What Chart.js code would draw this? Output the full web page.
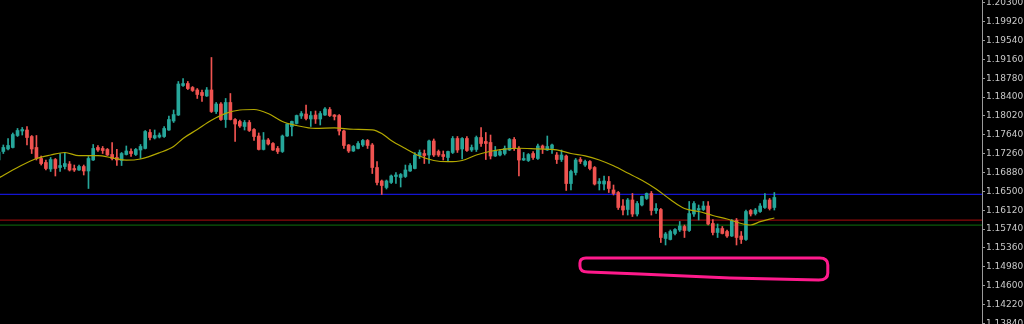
<!DOCTYPE html>
<html>
<head>
<meta charset="utf-8">
<script src="https://cdn.jsdelivr.net/npm/chart.js@4.4.0/dist/chart.umd.min.js"></script>
<style>
  html, body { margin: 0; padding: 0; background: #000; }
  canvas { display: block; }
</style>
</head>
<body>
<canvas id="priceChart" width="1024" height="324"></canvas>
<script>
// candle prices, oldest first
const opens = [
  1.17131, 1.17303, 1.17354, 1.17384, 1.17625, 1.17716, 1.17736, 1.17605, 1.17384, 1.17162,
  1.17081, 1.16950, 1.17141, 1.16980, 1.17000, 1.17050, 1.16960, 1.16930, 1.17000, 1.16910,
  1.17131, 1.17384, 1.17364, 1.17344, 1.17242, 1.17182, 1.17121, 1.17242, 1.17303, 1.17242,
  1.17333, 1.17364, 1.17686, 1.17575, 1.17595, 1.17605, 1.17736, 1.17918, 1.18038, 1.18633,
  1.18673, 1.18593, 1.18543, 1.18493, 1.18422, 1.18543, 1.18109, 1.18260, 1.17947, 1.18291,
  1.17947, 1.17908, 1.17807, 1.17888, 1.17746, 1.17615, 1.17344, 1.17535, 1.17464, 1.17364,
  1.17303, 1.17615, 1.17807, 1.17868, 1.18018, 1.18058, 1.17958, 1.18038, 1.17958, 1.18038,
  1.18149, 1.18038, 1.18028, 1.17716, 1.17434, 1.17313, 1.17364, 1.17434, 1.17525, 1.17434,
  1.16980, 1.16708, 1.16577, 1.16678, 1.16799, 1.16779, 1.16799, 1.16910, 1.16960, 1.17222,
  1.17262, 1.17232, 1.17515, 1.17303, 1.17242, 1.17182, 1.17283, 1.17565, 1.17354, 1.17565,
  1.17333, 1.17344, 1.17585, 1.17505, 1.17485, 1.17212, 1.17232, 1.17262, 1.17333, 1.17545,
  1.17364, 1.17131, 1.17121, 1.17262, 1.17162, 1.17414, 1.17333, 1.17364, 1.17232, 1.17141,
  1.17212, 1.16657, 1.16879, 1.17141, 1.17030, 1.17101, 1.16980, 1.16657, 1.16647, 1.16698,
  1.16527, 1.16476, 1.16204, 1.16134, 1.16325, 1.16042, 1.16224, 1.16356, 1.16456, 1.16113,
  1.16133, 1.15549, 1.15529, 1.15650, 1.15720, 1.15791, 1.15710, 1.16042, 1.16123, 1.16133,
  1.16204, 1.15851, 1.15670, 1.15750, 1.15690, 1.15599, 1.15912, 1.15599, 1.15529, 1.16113,
  1.16052, 1.16093, 1.16174, 1.16325, 1.16174
];
const highs = [
  1.17333, 1.17434, 1.17565, 1.17676, 1.17767, 1.17787, 1.17807, 1.17625, 1.17625, 1.17212,
  1.17131, 1.17182, 1.17162, 1.17262, 1.17283, 1.17101, 1.17030, 1.17030, 1.17030, 1.17202,
  1.17444, 1.17424, 1.17404, 1.17364, 1.17485, 1.17344, 1.17283, 1.17414, 1.17354, 1.17364,
  1.17444, 1.17726, 1.17746, 1.17736, 1.17676, 1.17807, 1.18018, 1.18139, 1.18714, 1.18775,
  1.18714, 1.18613, 1.18572, 1.18543, 1.18593, 1.19198, 1.18291, 1.18291, 1.18372, 1.18472,
  1.17968, 1.17938, 1.17928, 1.17928, 1.17767, 1.17676, 1.17686, 1.17565, 1.17485, 1.17404,
  1.17635, 1.17868, 1.17918, 1.18038, 1.18109, 1.18240, 1.18109, 1.18119, 1.18109, 1.18190,
  1.18190, 1.18048, 1.18048, 1.17736, 1.17444, 1.17424, 1.17505, 1.17545, 1.17545, 1.17464,
  1.17101, 1.16728, 1.16728, 1.16829, 1.16879, 1.16859, 1.17030, 1.17060, 1.17283, 1.17333,
  1.17333, 1.17535, 1.17555, 1.17333, 1.17313, 1.17313, 1.17605, 1.17605, 1.17585, 1.17605,
  1.17434, 1.17615, 1.17787, 1.17686, 1.17635, 1.17404, 1.17344, 1.17414, 1.17565, 1.17585,
  1.17404, 1.17283, 1.17262, 1.17303, 1.17454, 1.17434, 1.17615, 1.17454, 1.17283, 1.17333,
  1.17232, 1.16930, 1.17162, 1.17182, 1.17131, 1.17121, 1.17000, 1.16758, 1.16809, 1.16799,
  1.16627, 1.16497, 1.16335, 1.16356, 1.16456, 1.16295, 1.16406, 1.16467, 1.16497, 1.16254,
  1.16154, 1.15670, 1.15720, 1.15750, 1.15892, 1.15821, 1.16295, 1.16295, 1.16224, 1.16295,
  1.16295, 1.15932, 1.15841, 1.15791, 1.15720, 1.15932, 1.15952, 1.15690, 1.16123, 1.16133,
  1.16154, 1.16254, 1.16456, 1.16356, 1.16476
];
const lows = [
  1.17071, 1.17262, 1.17333, 1.17374, 1.17605, 1.17635, 1.17434, 1.17262, 1.17131, 1.17030,
  1.16930, 1.16900, 1.16809, 1.16900, 1.16950, 1.16910, 1.16900, 1.16920, 1.16829, 1.16557,
  1.17121, 1.17303, 1.17262, 1.17222, 1.17131, 1.17020, 1.17020, 1.17232, 1.17202, 1.17222,
  1.17162, 1.17354, 1.17535, 1.17555, 1.17575, 1.17585, 1.17726, 1.17888, 1.18028, 1.18613,
  1.18552, 1.18513, 1.18372, 1.18311, 1.18412, 1.18089, 1.18068, 1.17928, 1.17787, 1.17938,
  1.17505, 1.17787, 1.17736, 1.17706, 1.17525, 1.17333, 1.17333, 1.17434, 1.17323, 1.17262,
  1.17283, 1.17605, 1.17615, 1.17857, 1.17968, 1.17938, 1.17807, 1.17868, 1.17837, 1.18028,
  1.18008, 1.17938, 1.17635, 1.17364, 1.17283, 1.17303, 1.17354, 1.17404, 1.17364, 1.16859,
  1.16627, 1.16436, 1.16547, 1.16657, 1.16657, 1.16587, 1.16779, 1.16900, 1.16950, 1.17162,
  1.17060, 1.17060, 1.17202, 1.17202, 1.17131, 1.17101, 1.17262, 1.17283, 1.17152, 1.17303,
  1.17303, 1.17303, 1.17404, 1.17141, 1.17152, 1.17202, 1.17212, 1.17232, 1.17323, 1.17323,
  1.16809, 1.17121, 1.17101, 1.17141, 1.17141, 1.17262, 1.17323, 1.17262, 1.17060, 1.17101,
  1.16517, 1.16527, 1.16829, 1.17060, 1.17000, 1.16930, 1.16627, 1.16527, 1.16527, 1.16476,
  1.16426, 1.16134, 1.16022, 1.16022, 1.15992, 1.16002, 1.16204, 1.16335, 1.16022, 1.16052,
  1.15468, 1.15418, 1.15519, 1.15619, 1.15690, 1.15569, 1.15690, 1.15992, 1.15922, 1.16113,
  1.15821, 1.15619, 1.15569, 1.15640, 1.15569, 1.15589, 1.15418, 1.15448, 1.15509, 1.16002,
  1.16022, 1.16073, 1.16154, 1.16123, 1.16123
];
const closes = [
  1.17293, 1.17384, 1.17424, 1.17645, 1.17726, 1.17746, 1.17585, 1.17354, 1.17162, 1.17060,
  1.16960, 1.17141, 1.16960, 1.17020, 1.17060, 1.16930, 1.16930, 1.17000, 1.16910, 1.17162,
  1.17364, 1.17333, 1.17323, 1.17232, 1.17162, 1.17131, 1.17262, 1.17313, 1.17262, 1.17344,
  1.17404, 1.17706, 1.17585, 1.17625, 1.17635, 1.17767, 1.17947, 1.18048, 1.18663, 1.18673,
  1.18572, 1.18533, 1.18452, 1.18432, 1.18543, 1.18109, 1.18260, 1.17947, 1.18291, 1.17947,
  1.17857, 1.17817, 1.17888, 1.17726, 1.17605, 1.17344, 1.17535, 1.17454, 1.17333, 1.17303,
  1.17615, 1.17857, 1.17908, 1.18028, 1.18068, 1.17968, 1.18028, 1.17958, 1.18068, 1.18160,
  1.18028, 1.18008, 1.17716, 1.17424, 1.17313, 1.17404, 1.17464, 1.17525, 1.17424, 1.16980,
  1.16678, 1.16617, 1.16708, 1.16809, 1.16829, 1.16839, 1.16930, 1.17020, 1.17232, 1.17283,
  1.17222, 1.17515, 1.17232, 1.17232, 1.17202, 1.17303, 1.17565, 1.17333, 1.17565, 1.17323,
  1.17384, 1.17585, 1.17464, 1.17464, 1.17212, 1.17313, 1.17303, 1.17364, 1.17545, 1.17364,
  1.17131, 1.17162, 1.17242, 1.17182, 1.17414, 1.17364, 1.17404, 1.17434, 1.17141, 1.17232,
  1.16657, 1.16900, 1.17131, 1.17101, 1.17101, 1.16960, 1.16647, 1.16698, 1.16708, 1.16557,
  1.16456, 1.16174, 1.16123, 1.16325, 1.16042, 1.16254, 1.16396, 1.16456, 1.16113, 1.16154,
  1.15569, 1.15640, 1.15690, 1.15730, 1.15801, 1.15710, 1.16052, 1.16254, 1.16154, 1.16204,
  1.15841, 1.15670, 1.15750, 1.15650, 1.15599, 1.15912, 1.15569, 1.15529, 1.16093, 1.16042,
  1.16123, 1.16204, 1.16325, 1.16154, 1.16376
];

// moving average, read at these candle indices
const maIndex = [0, 4, 8, 11, 14, 17, 21, 24, 27, 30, 34, 37, 39, 42, 45, 48, 51, 54, 57, 60,
  63, 67, 71, 75, 79, 81, 83, 86, 89, 92, 95, 98, 101, 104, 107, 110, 114, 118, 121, 124,
  127, 130, 133, 136, 139, 142, 145, 148, 151, 154, 157, 159, 161, 164];
const maValues = [1.16769, 1.16980, 1.17162, 1.17232, 1.17283, 1.17218, 1.17218, 1.17176, 1.17127, 1.17152,
  1.17277, 1.17404, 1.17565, 1.17746, 1.17932, 1.18072, 1.18139, 1.18149, 1.18068, 1.17908,
  1.17827, 1.17767, 1.17777, 1.17751, 1.17740, 1.17665, 1.17525, 1.17364, 1.17212, 1.17121,
  1.17097, 1.17121, 1.17232, 1.17307, 1.17350, 1.17368, 1.17354, 1.17337, 1.17262, 1.17216,
  1.17131, 1.17014, 1.16870, 1.16722, 1.16547, 1.16335, 1.16154, 1.16093, 1.16012, 1.15942,
  1.15851, 1.15821, 1.15888, 1.15962];

// horizontal levels
const levelValues = [1.16439, 1.15921, 1.15820];
const levelColors = ['#1414d2', '#8c0a0a', '#0a5a0a'];

const tickLabels = ['1.20300', '1.19920', '1.19540', '1.19160', '1.18780', '1.18400', '1.18020',
  '1.17640', '1.17260', '1.16880', '1.16500', '1.16120', '1.15740', '1.15360', '1.14980',
  '1.14600', '1.14220', '1.13840'];

// hand drawn mark under the lows (candle index range, price range)
const markRange = { from: 122.9, to: 175.3, top: 1.15176, bottom: 1.14712 };

const bull = '#26a69a';
const bear = '#ef5350';
const xMin = 0.296, xMax = 207.9;
const yMin = 1.13825, yMax = 1.20357;

const candleColor = ctx => closes[ctx.dataIndex] >= opens[ctx.dataIndex] ? bull : bear;

const markPlugin = {
  id: 'mark',
  afterDatasetsDraw(chart) {
    const { ctx, scales: { x, y } } = chart;
    const x0 = x.getPixelForValue(markRange.from);
    const x1 = x.getPixelForValue(markRange.to);
    const yT = y.getPixelForValue(markRange.top);
    const yB = y.getPixelForValue(markRange.bottom);
    ctx.save();
    ctx.strokeStyle = '#ff1a8c';
    ctx.lineWidth = 3;
    ctx.lineJoin = 'round';
    ctx.beginPath();
    ctx.moveTo(x0 + 6, yT + 1);
    ctx.lineTo(x1 - 8, yT + 1);
    ctx.quadraticCurveTo(x1, yT + 1, x1, yT + 8);
    ctx.lineTo(x1, yB - 7);
    ctx.quadraticCurveTo(x1, yB, x1 - 9, yB);
    ctx.lineTo(x0 + 150, yB - 2);
    ctx.lineTo(x0 + 60, yB - 6);
    ctx.lineTo(x0 + 8, yB - 8);
    ctx.quadraticCurveTo(x0, yB - 8, x0, yB - 14);
    ctx.lineTo(x0, yT + 6);
    ctx.quadraticCurveTo(x0, yT + 1, x0 + 6, yT + 1);
    ctx.stroke();
    ctx.restore();
  }
};

new Chart(document.getElementById('priceChart').getContext('2d'), {
  type: 'bar',
  data: {
    datasets: [
      ...levelValues.map((v, i) => ({
        type: 'line',
        data: [{ x: xMin, y: v }, { x: xMax, y: v }],
        borderColor: levelColors[i],
        borderWidth: 1.3,
        pointRadius: 0,
        order: 3
      })),
      {
        type: 'bar',
        data: highs.map((h, i) => ({ x: i, y: [lows[i], h] })),
        backgroundColor: candleColor,
        barThickness: 1,
        grouped: false,
        borderWidth: 0,
        order: 2
      },
      {
        type: 'bar',
        data: opens.map((o, i) => ({ x: i, y: [o, closes[i]] })),
        backgroundColor: candleColor,
        barThickness: 3,
        minBarLength: 1,
        grouped: false,
        borderWidth: 0,
        order: 1
      },
      {
        type: 'line',
        data: maIndex.map((k, i) => ({ x: k, y: maValues[i] })),
        borderColor: '#b3a800',
        borderWidth: 1.2,
        pointRadius: 0,
        cubicInterpolationMode: 'monotone',
        order: 0
      }
    ]
  },
  options: {
    responsive: false,
    animation: false,
    layout: { padding: 0 },
    plugins: { legend: { display: false }, tooltip: { enabled: false } },
    scales: {
      x: { type: 'linear', min: xMin, max: xMax, offset: false, display: false },
      y: {
        position: 'right',
        min: yMin,
        max: yMax,
        afterBuildTicks: s => { s.ticks = tickLabels.map(t => ({ value: Number(t) })); },
        afterFit: s => { s.width = 42; s.paddingTop = 0; s.paddingBottom = 0; },
        grid: { drawOnChartArea: false, drawTicks: true, tickLength: 3, color: '#9a9a9a' },
        border: { display: true, color: '#9a9a9a' },
        ticks: {
          color: '#c8c8c8',
          padding: 1,
          autoSkip: false,
          font: { family: 'DejaVu Sans', size: 9 },
          callback: v => v.toFixed(5)
        }
      }
    }
  },
  plugins: [markPlugin]
});
</script>
</body>
</html>
